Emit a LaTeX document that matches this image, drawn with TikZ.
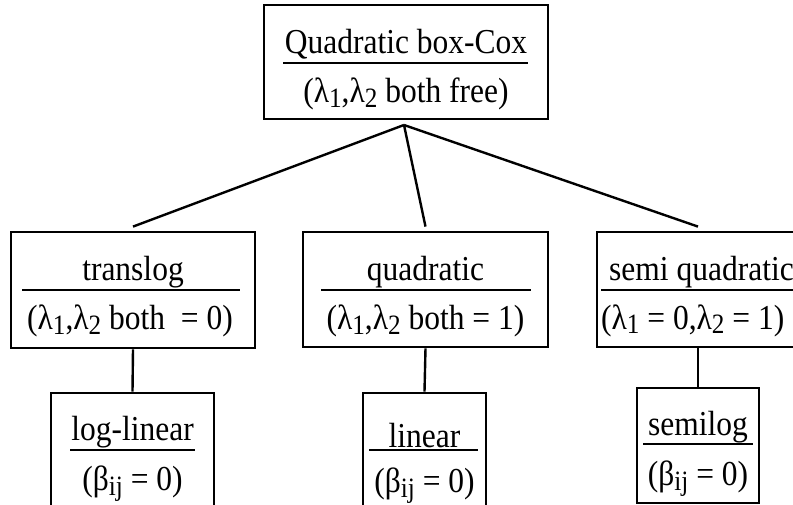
\documentclass[tikz,border=0pt]{standalone}
\usepackage{fontspec}
\setmainfont{Liberation Serif}[FakeStretch=0.9]
\usetikzlibrary{positioning}

% lowered index for the parameter names
\newcommand{\lowidx}[1]{\raisebox{-5pt}{\fontsize{28}{28}\selectfont #1}}

\tikzset{
  modelbox/.style={draw, line width=2.8pt, inner sep=0pt},
  modeltext/.style={inner sep=0pt, anchor=base, font=\fontsize{35}{42}\selectfont},
  sepline/.style={line width=2.8pt},
  link/.style={line width=2.4pt}
}

\begin{document}
\begin{tikzpicture}[x=1pt, y=-1pt]
  \useasboundingbox (0,0) rectangle (793,505);
  \clip (0,0) rectangle (793,505);

  % top level
  \node[modelbox, minimum width=284pt, minimum height=114pt] (boxcox) at (406,62) {};
  \node[modeltext] (boxcox name) at (406,54) {Quadratic box-Cox};
  \draw[sepline] (283,63) -- (528,63);
  \node[modeltext] (boxcox cond) at (406,103) {(λ\lowidx{1},λ\lowidx{2} both free)};

  % middle level
  \node[modelbox, minimum width=244pt, minimum height=116pt] (translog) at (133,290) {};
  \node[modeltext] (translog name) at (133,280) {translog};
  \draw[sepline] (22,290) -- (240,290);
  \node[modeltext] (translog cond) at (130,330) {(λ\lowidx{1},λ\lowidx{2} both~~= 0)};

  \node[modelbox, minimum width=245pt, minimum height=115pt] (quadratic) at (425.5,289.5) {};
  \node[modeltext] (quadratic name) at (425.5,280) {quadratic};
  \draw[sepline] (321,290) -- (531,290);
  \node[modeltext] (quadratic cond) at (425.5,330) {(λ\lowidx{1},λ\lowidx{2} both = 1)};

  \node[modelbox, minimum width=202pt, minimum height=115pt] (semiquad) at (698,289.5) {};
  \node[modeltext, anchor=base west] (semiquad name) at (609,280) {semi quadratic};
  \draw[sepline] (601,290) -- (795,290);
  \node[modeltext, anchor=base west] (semiquad cond) at (601,329) {(λ\lowidx{1} = 0,λ\lowidx{2} = 1)};

  % bottom level
  \node[modelbox, minimum width=163pt, minimum height=130pt] (loglinear) at (132.5,458) {};
  \node[modeltext] (loglinear name) at (132.5,440) {log-linear};
  \draw[sepline] (70,450) -- (195,450);
  \node[modeltext] (loglinear cond) at (132.5,490) {(β\lowidx{ij} = 0)};

  \node[modelbox, minimum width=123pt, minimum height=130pt] (linear) at (424.5,458) {};
  \node[modeltext] (linear name) at (424.5,447) {linear};
  \draw[sepline] (369,450) -- (478,450);
  \node[modeltext] (linear cond) at (424.5,492) {(β\lowidx{ij} = 0)};

  \node[modelbox, minimum width=122pt, minimum height=115pt] (semilog) at (698,445.5) {};
  \node[modeltext] (semilog name) at (698,435) {semilog};
  \draw[sepline] (643,444) -- (753,444);
  \node[modeltext] (semilog cond) at (698,485) {(β\lowidx{ij} = 0)};

  % connectors
  \coordinate (fork) at (404,125);
  \draw[link] (fork) -- ([yshift=4pt]translog.north);
  \draw[link] (fork) -- ([yshift=4pt]quadratic.north);
  \draw[link] (fork) -- ([yshift=4pt]semiquad.north);
  \draw[link] (translog.south) -- (loglinear.north);
  \draw[link] (quadratic.south) -- (linear.north);
  \draw[link] (semiquad.south) -- (semilog.north);
\end{tikzpicture}
\end{document}
